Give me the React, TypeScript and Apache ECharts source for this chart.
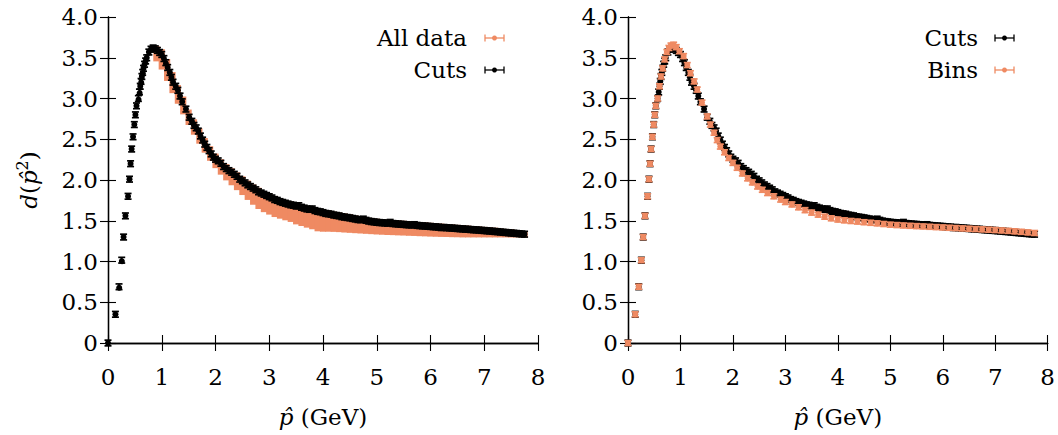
import React, { useEffect, useRef } from "react";
import * as echarts from "echarts";

// ---------------- data ----------------
const xTicks = [0, 1, 2, 3, 4, 5, 6, 7, 8];
const yTicks = [0, 0.5, 1.0, 1.5, 2.0, 2.5, 3.0, 3.5, 4.0];

// "Cuts" : [p, d]
const cutsPoints: [number, number][] = [
  [0.000, 0.000], [0.138, 0.352], [0.205, 0.690], [0.255, 1.016], [0.290, 1.300],
  [0.324, 1.560], [0.373, 1.800], [0.400, 2.010], [0.420, 2.200], [0.440, 2.380],
  [0.466, 2.530], [0.490, 2.680], [0.510, 2.800], [0.530, 2.910], [0.565, 3.000],
  [0.585, 3.080], [0.600, 3.150], [0.615, 3.210], [0.630, 3.270], [0.645, 3.320],
  [0.660, 3.370], [0.680, 3.420], [0.700, 3.460], [0.720, 3.500], [0.760, 3.570],
  [0.800, 3.605], [0.840, 3.620], [0.880, 3.610], [0.920, 3.590], [0.960, 3.565],
  [1.000, 3.540], [1.040, 3.490], [1.075, 3.440], [1.110, 3.380], [1.150, 3.320],
  [1.180, 3.260], [1.210, 3.200], [1.260, 3.150], [1.300, 3.100], [1.340, 3.030],
  [1.380, 2.960], [1.450, 2.870], [1.510, 2.770], [1.560, 2.720], [1.600, 2.670],
  [1.640, 2.640], [1.680, 2.600], [1.720, 2.540], [1.760, 2.490], [1.800, 2.440],
  [1.840, 2.400], [1.880, 2.360], [1.920, 2.320], [1.960, 2.280], [2.000, 2.255],
  [2.050, 2.235], [2.100, 2.205], [2.150, 2.165], [2.200, 2.140], [2.250, 2.115],
  [2.300, 2.095], [2.350, 2.070], [2.400, 2.045], [2.450, 2.010], [2.500, 1.990],
  [2.550, 1.965], [2.600, 1.940], [2.650, 1.920], [2.700, 1.900], [2.750, 1.880],
  [2.800, 1.855], [2.850, 1.840], [2.900, 1.825], [2.950, 1.810], [3.000, 1.795],
  [3.050, 1.780], [3.100, 1.760], [3.150, 1.750], [3.200, 1.735], [3.250, 1.725],
  [3.300, 1.715], [3.350, 1.705], [3.400, 1.695], [3.450, 1.690], [3.500, 1.680],
  [3.550, 1.685], [3.600, 1.665], [3.650, 1.655], [3.700, 1.645], [3.750, 1.640],
  [3.800, 1.645], [3.850, 1.625], [3.900, 1.615], [3.950, 1.610], [4.000, 1.600],
  [4.050, 1.590], [4.100, 1.585], [4.150, 1.580], [4.200, 1.570], [4.250, 1.565],
  [4.300, 1.560], [4.350, 1.550], [4.400, 1.545], [4.450, 1.540], [4.500, 1.535],
  [4.550, 1.528], [4.600, 1.522], [4.650, 1.515], [4.700, 1.512], [4.750, 1.520],
  [4.800, 1.505], [4.850, 1.496], [4.900, 1.490], [4.950, 1.486], [5.000, 1.481],
  [5.050, 1.478], [5.100, 1.476], [5.150, 1.473], [5.200, 1.470], [5.250, 1.480],
  [5.300, 1.466], [5.350, 1.463], [5.400, 1.460], [5.450, 1.457], [5.500, 1.455],
  [5.550, 1.452], [5.600, 1.450], [5.650, 1.448], [5.700, 1.452], [5.750, 1.443],
  [5.800, 1.440], [5.850, 1.437], [5.900, 1.435], [5.950, 1.432], [6.000, 1.430],
  [6.050, 1.427], [6.100, 1.425], [6.150, 1.422], [6.200, 1.416], [6.250, 1.418],
  [6.300, 1.415], [6.350, 1.412], [6.400, 1.410], [6.450, 1.407], [6.500, 1.405],
  [6.550, 1.402], [6.600, 1.400], [6.650, 1.397], [6.700, 1.395], [6.750, 1.392],
  [6.800, 1.390], [6.850, 1.388], [6.900, 1.385], [6.950, 1.382], [7.000, 1.380],
  [7.050, 1.377], [7.100, 1.374], [7.150, 1.372], [7.200, 1.368], [7.250, 1.366],
  [7.300, 1.362], [7.350, 1.359], [7.400, 1.356], [7.450, 1.353], [7.500, 1.350],
  [7.550, 1.347], [7.600, 1.344], [7.650, 1.341], [7.700, 1.338], [7.750, 1.335],
];
const cutsErr = 0.035;

// "Bins" : [p, d]
const binsPoints: [number, number][] = [
  [0.000, 0.000], [0.138, 0.352], [0.205, 0.690], [0.255, 1.016], [0.290, 1.300],
  [0.324, 1.560], [0.373, 1.800], [0.400, 2.010], [0.420, 2.200], [0.440, 2.380],
  [0.466, 2.530], [0.490, 2.680], [0.510, 2.800], [0.530, 2.910], [0.565, 3.000],
  [0.600, 3.150], [0.630, 3.270], [0.660, 3.370], [0.700, 3.480], [0.740, 3.570],
  [0.780, 3.620], [0.820, 3.650], [0.870, 3.660], [0.920, 3.630], [0.980, 3.580],
  [1.060, 3.520], [1.130, 3.410], [1.190, 3.310], [1.260, 3.210], [1.320, 3.110],
  [1.410, 2.950], [1.510, 2.780], [1.570, 2.680], [1.640, 2.580], [1.700, 2.490],
  [1.760, 2.410], [1.840, 2.340], [1.920, 2.270], [2.000, 2.210], [2.080, 2.150],
  [2.180, 2.080], [2.280, 2.020], [2.370, 1.970], [2.470, 1.920], [2.560, 1.880],
  [2.660, 1.840], [2.780, 1.800], [2.910, 1.760], [3.000, 1.730], [3.125, 1.700],
  [3.250, 1.665], [3.375, 1.630], [3.500, 1.600], [3.625, 1.575], [3.750, 1.550],
  [3.875, 1.530], [4.000, 1.515], [4.125, 1.505], [4.250, 1.497], [4.375, 1.490],
  [4.500, 1.482], [4.625, 1.475], [4.750, 1.468], [4.875, 1.460], [5.000, 1.452],
  [5.125, 1.447], [5.250, 1.442], [5.375, 1.438], [5.500, 1.434], [5.625, 1.430],
  [5.750, 1.426], [5.875, 1.422], [6.000, 1.418], [6.125, 1.414], [6.250, 1.410],
  [6.375, 1.406], [6.500, 1.402], [6.625, 1.398], [6.750, 1.394], [6.875, 1.390],
  [7.000, 1.386], [7.125, 1.381], [7.250, 1.376], [7.375, 1.370], [7.500, 1.364],
  [7.625, 1.357], [7.750, 1.350],
];
const binsErr = 0.03;

// "All data" : [p, low, high] spread of all points
const allDataBand: [number, number, number][] = [
  [0.90, 3.48, 3.62], [1.00, 3.38, 3.58], [1.10, 3.24, 3.46], [1.20, 3.09, 3.30],
  [1.30, 2.96, 3.14], [1.40, 2.83, 3.00], [1.50, 2.70, 2.84], [1.60, 2.58, 2.72],
  [1.70, 2.47, 2.61], [1.80, 2.36, 2.49], [1.90, 2.26, 2.39], [2.00, 2.17, 2.30],
  [2.10, 2.09, 2.23], [2.20, 2.02, 2.17], [2.30, 1.96, 2.12], [2.40, 1.90, 2.07],
  [2.50, 1.84, 2.02], [2.60, 1.78, 1.97], [2.70, 1.72, 1.92], [2.80, 1.67, 1.88],
  [2.90, 1.63, 1.84], [3.00, 1.60, 1.81], [3.10, 1.57, 1.78], [3.20, 1.55, 1.75],
  [3.30, 1.53, 1.73], [3.40, 1.51, 1.71], [3.50, 1.48, 1.69], [3.60, 1.46, 1.67],
  [3.70, 1.44, 1.65], [3.80, 1.42, 1.64], [3.90, 1.395, 1.625], [4.00, 1.39, 1.61],
  [4.10, 1.39, 1.60], [4.20, 1.388, 1.585], [4.30, 1.385, 1.575], [4.40, 1.38, 1.565],
  [4.50, 1.376, 1.555], [4.60, 1.372, 1.54], [4.70, 1.368, 1.53], [4.80, 1.364, 1.52],
  [4.90, 1.36, 1.51], [5.00, 1.356, 1.50], [5.10, 1.353, 1.495], [5.20, 1.35, 1.49],
  [5.30, 1.348, 1.485], [5.40, 1.345, 1.48], [5.50, 1.343, 1.475], [5.60, 1.34, 1.47],
  [5.70, 1.338, 1.465], [5.80, 1.335, 1.46], [5.90, 1.333, 1.455], [6.00, 1.33, 1.45],
  [6.10, 1.328, 1.445], [6.20, 1.326, 1.44], [6.30, 1.325, 1.435], [6.40, 1.323, 1.43],
  [6.50, 1.322, 1.425], [6.60, 1.32, 1.42], [6.70, 1.32, 1.415], [6.80, 1.32, 1.41],
  [6.90, 1.32, 1.405], [7.00, 1.32, 1.40], [7.10, 1.32, 1.395], [7.20, 1.32, 1.39],
  [7.30, 1.32, 1.38], [7.40, 1.32, 1.375], [7.50, 1.32, 1.37], [7.60, 1.32, 1.36],
  [7.70, 1.32, 1.35], [7.75, 1.32, 1.345],
];
const bandHalfWidth = 0.05;

const seriesNames = { all: "All data", cuts: "Cuts", bins: "Bins" };

// ---------------- styles ----------------
const FONT = "DejaVu Serif";
const FS = 23;
const ORANGE = "#ef8a62";
const BLACK = "#000000";

function errorBarRenderer(color: string, capHalf: number, r: number) {
  return (params: any, api: any) => {
    const x = api.value(0);
    const y = api.value(1);
    const e = api.value(2);
    const c = api.coord([x, y]);
    const t = api.coord([x, y + e]);
    const b = api.coord([x, y - e]);
    const ls = { stroke: color, lineWidth: 1.7 };
    return {
      type: "group",
      children: [
        { type: "line", shape: { x1: c[0], y1: t[1], x2: c[0], y2: b[1] }, style: ls },
        { type: "line", shape: { x1: c[0] - capHalf, y1: t[1], x2: c[0] + capHalf, y2: t[1] }, style: ls },
        { type: "line", shape: { x1: c[0] - capHalf, y1: b[1], x2: c[0] + capHalf, y2: b[1] }, style: ls },
        { type: "circle", shape: { cx: c[0], cy: c[1], r }, style: { fill: color } },
      ],
    };
  };
}

function bandRenderer(color: string) {
  return (params: any, api: any) => {
    const x = api.value(0);
    const lo = api.value(1);
    const hi = api.value(2);
    const p1 = api.coord([x - bandHalfWidth, hi]);
    const p2 = api.coord([x + bandHalfWidth, lo]);
    return {
      type: "rect",
      shape: { x: p1[0] - 0.4, y: p1[1] - 2, width: p2[0] - p1[0] + 0.8, height: p2[1] - p1[1] + 4 },
      style: { fill: color },
    };
  };
}

function legendEntry(textRight: number, iconLeft: number, y: number, label: string, color: string) {
  const w = 19;
  const cx = iconLeft + w / 2;
  const ls = { stroke: color, lineWidth: 1.3 };
  return [
    {
      type: "text",
      x: textRight,
      y,
      style: {
        text: label,
        fontFamily: FONT,
        fontSize: FS,
        fill: BLACK,
        align: "right",
        verticalAlign: "middle",
      },
    },
    { type: "line", shape: { x1: iconLeft, y1: y, x2: iconLeft + w, y2: y }, style: ls },
    { type: "line", shape: { x1: iconLeft, y1: y - 3.5, x2: iconLeft, y2: y + 3.5 }, style: ls },
    { type: "line", shape: { x1: iconLeft + w, y1: y - 3.5, x2: iconLeft + w, y2: y + 3.5 }, style: ls },
    { type: "circle", shape: { cx, cy: y, r: 2.5 }, style: { fill: color } },
  ];
}

const App: React.FC = () => {
  const ref = useRef<HTMLDivElement>(null);

  useEffect(() => {
    if (!ref.current) return;
    const chart = echarts.init(ref.current, undefined, { renderer: "svg" });

    const textStyle = { fontFamily: FONT, fontSize: FS, color: BLACK };
    const axisLine = { show: true, lineStyle: { color: BLACK, width: 1.3 } };
    const axisTick = { show: true, inside: true, length: 8, lineStyle: { color: BLACK, width: 1.1 } };
    const nameRich = {
      n: { fontFamily: FONT, fontSize: FS, color: BLACK },
      i: { fontFamily: FONT, fontSize: FS, fontStyle: "italic", color: BLACK },
      s: { fontFamily: FONT, fontSize: 16, color: BLACK, padding: [0, 0, 14, 0] },
    };

    const makeX = (gridIndex: number, bottom: boolean) => ({
      type: "value",
      gridIndex,
      position: bottom ? "bottom" : "top",
      min: 0,
      max: 8,
      interval: 1,
      axisLine,
      axisTick,
      splitLine: { show: false },
      axisLabel: bottom
        ? { show: true, margin: 22, ...textStyle, formatter: (v: number) => (xTicks.includes(v) ? String(v) : "") }
        : { show: false },
      name: bottom ? "{i|p\u0302}{n| (GeV)}" : "",
      nameLocation: "middle",
      nameGap: 62,
      nameTextStyle: { ...textStyle, rich: nameRich },
    });

    const makeY = (gridIndex: number, left: boolean, withName: boolean) => ({
      type: "value",
      gridIndex,
      position: left ? "left" : "right",
      min: 0,
      max: 4,
      interval: 0.5,
      axisLine,
      axisTick,
      splitLine: { show: false },
      axisLabel: left
        ? {
            show: true,
            margin: 10,
            ...textStyle,
            formatter: (v: number) => (yTicks.includes(v) ? (v === 0 ? "0" : v.toFixed(1)) : ""),
          }
        : { show: false },
      name: withName ? "{i|d}{n|(}{i|p\u0302}{s|2}{n|)}" : "",
      nameLocation: "middle",
      nameGap: 64,
      nameTextStyle: { ...textStyle, rich: nameRich },
    });

    const option: any = {
      animation: false,
      backgroundColor: "#ffffff",
      textStyle: { fontFamily: FONT },
      grid: [
        { left: 108, top: 17, width: 430, height: 326, containLabel: false },
        { left: 628, top: 17, width: 420, height: 326, containLabel: false },
      ],
      xAxis: [makeX(0, true), makeX(0, false), makeX(1, true), makeX(1, false)],
      yAxis: [makeY(0, true, true), makeY(0, false, false), makeY(1, true, false), makeY(1, false, false)],
      series: [
        {
          name: seriesNames.all,
          type: "custom",
          xAxisIndex: 0,
          yAxisIndex: 0,
          renderItem: bandRenderer(ORANGE),
          data: allDataBand,
          encode: { x: 0, y: [1, 2] },
          z: 2,
        },
        {
          name: seriesNames.cuts,
          type: "custom",
          xAxisIndex: 0,
          yAxisIndex: 0,
          renderItem: errorBarRenderer(BLACK, 3.5, 3.0),
          data: cutsPoints.map(([x, y]) => [x, y, cutsErr]),
          encode: { x: 0, y: 1 },
          z: 3,
        },
        {
          name: seriesNames.cuts,
          type: "custom",
          xAxisIndex: 2,
          yAxisIndex: 2,
          renderItem: errorBarRenderer(BLACK, 3.5, 3.0),
          data: cutsPoints.map(([x, y]) => [x, y, cutsErr]),
          encode: { x: 0, y: 1 },
          z: 3,
        },
        {
          name: seriesNames.bins,
          type: "custom",
          xAxisIndex: 2,
          yAxisIndex: 2,
          renderItem: errorBarRenderer(ORANGE, 3.5, 3.0),
          data: binsPoints.map(([x, y]) => [x, y, binsErr]),
          encode: { x: 0, y: 1 },
          z: 4,
        },
      ],
      graphic: [
        ...legendEntry(467, 485, 38, seriesNames.all, ORANGE),
        ...legendEntry(467, 485, 70, seriesNames.cuts, BLACK),
        ...legendEntry(978, 995, 38, seriesNames.cuts, BLACK),
        ...legendEntry(978, 995, 70, seriesNames.bins, ORANGE),
      ],
    };

    chart.setOption(option);
    return () => chart.dispose();
  }, []);

  return (
    <div
      ref={ref}
      style={{ position: "fixed", left: 0, top: 0, width: 1058, height: 435, background: "#fff" }}
    />
  );
};

export default App;
